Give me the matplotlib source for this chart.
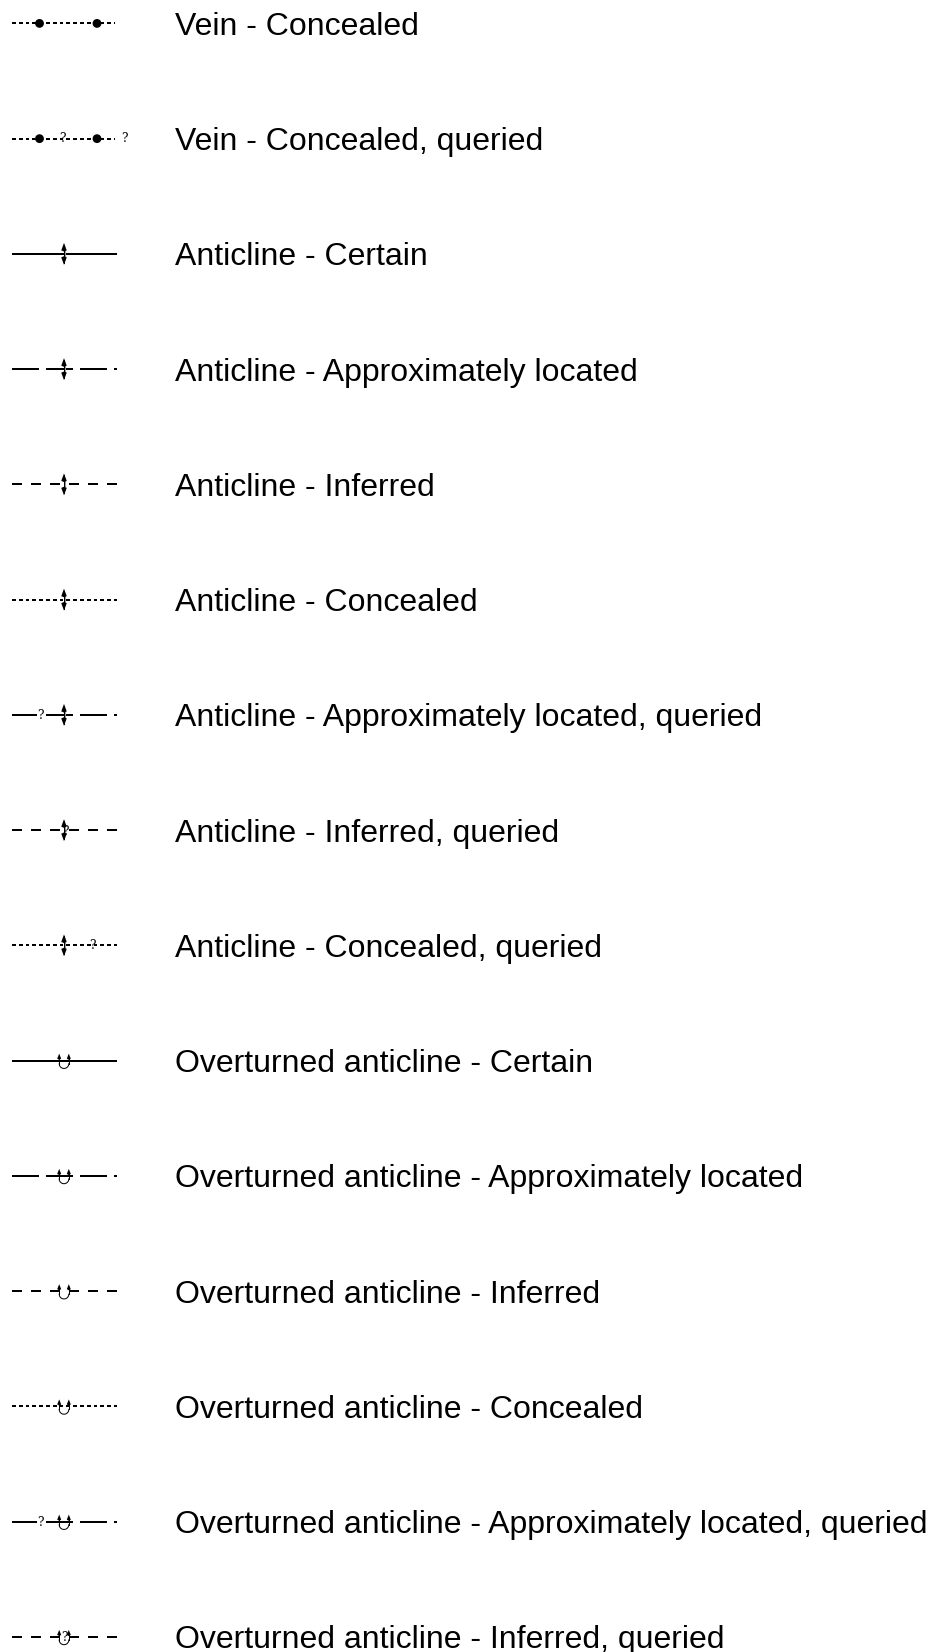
import matplotlib
matplotlib.use("Agg")
import matplotlib.pyplot as plt
from matplotlib.collections import LineCollection
from matplotlib.patches import Polygon, Circle
import numpy as np

labels = [
    "Vein - Concealed",
    "Vein - Concealed, queried",
    "Anticline - Certain",
    "Anticline - Approximately located",
    "Anticline - Inferred",
    "Anticline - Concealed",
    "Anticline - Approximately located, queried",
    "Anticline - Inferred, queried",
    "Anticline - Concealed, queried",
    "Overturned anticline - Certain",
    "Overturned anticline - Approximately located",
    "Overturned anticline - Inferred",
    "Overturned anticline - Concealed",
    "Overturned anticline - Approximately located, queried",
    "Overturned anticline - Inferred, queried",
]
line_kinds = ["concealed", "concealed", "solid", "approx", "inferred", "concealed",
              "approx", "inferred", "concealed", "solid", "approx", "inferred",
              "concealed", "approx", "inferred"]
features = ["vein", "vein"] + ["anticline"] * 7 + ["overturned"] * 6
queried = [False, True, False, False, False, False, True, True, True,
           False, False, False, False, True, True]

W, H = 929, 1652
fig = plt.figure(figsize=(W / 100, H / 100), dpi=100)
ax = fig.add_axes([0, 0, 1, 1])
ax.set_xlim(0, W)
ax.set_ylim(H, 0)
ax.axis("off")

PT = 0.72  # px -> pt at 100 dpi
X0, X1 = 12, 117
XC = 64
row0, step = 23.4, 115.25
TEXT_X = 175
FS = 23.0  # pt
FS_PX = FS / PT

patterns = {"solid": None, "approx": (27, 7), "inferred": (10, 9), "concealed": (3.8, 3.0)}


def segs(x0, x1, y, pat):
    if pat is None:
        return [[(x0, y), (x1, y)]]
    on, off = pat
    out = []
    x = x0
    while x < x1:
        out.append([(x, y), (min(x + on, x1), y)])
        x += on + off
    return out


def qmark(x, y, size=10):
    ax.text(x, y, "?", fontsize=size * PT * 1.2, family="DejaVu Serif",
            ha="center", va="center", color="black", zorder=5)


def arrowhead(x, y, direction, w=5.5, l=7.5):
    tip = (x, y)
    base_y = y - direction * l
    ax.add_patch(Polygon([tip, (x - w / 2, base_y), (x, base_y - direction * 1.2),
                          (x + w / 2, base_y)],
                         closed=True, facecolor="black", edgecolor="none", zorder=4))


def anticline(y):
    ax.plot([XC, XC], [y - 9, y + 9], color="black", lw=1.0 * PT, zorder=4)
    ax.plot([XC + 1.4, XC + 1.4], [y - 5, y + 5], color="#999999", lw=1.0 * PT, zorder=3)
    arrowhead(XC, y - 11, -1)
    arrowhead(XC, y + 11, 1)


def overturned(y):
    xl, xr = XC - 4.8, XC + 4.8
    r = (xr - xl) / 2
    cy = y + 3
    ax.plot([xl, xl], [y - 3, cy], color="black", lw=1.0 * PT, zorder=4)
    ax.plot([xr, xr], [y - 3, cy], color="black", lw=1.0 * PT, zorder=4)
    t = np.linspace(0, np.pi, 40)
    ax.plot(XC + r * np.cos(t), cy + r * np.sin(t), color="black", lw=1.0 * PT, zorder=4)
    arrowhead(xl, y - 7, -1, w=4.0, l=5.0)
    arrowhead(xr, y - 7, -1, w=4.0, l=5.0)


for i, (lab, kind, feat, q) in enumerate(zip(labels, line_kinds, features, queried)):
    y = row0 + i * step
    lines = segs(X0, X1 - 2 if feat == "vein" else X1, y, patterns[kind])
    if kind == "approx" and q:
        lines[0] = [(X0, y), (X0 + 25, y)]
    ax.add_collection(LineCollection(lines, colors="black", linewidths=2.0 * PT,
                                     capstyle="butt", zorder=2))
    if feat == "vein":
        for xd in (39.5, 97):
            ax.add_patch(Circle((xd, y), 4.4, facecolor="black", edgecolor="none", zorder=4))
        if q:
            qmark(62, y)
            qmark(124, y)
    elif feat == "anticline":
        anticline(y)
        if q:
            if kind == "approx":
                qmark(40.5, y + 1)
            elif kind == "inferred":
                qmark(XC + 1, y + 1)
            else:
                qmark(92, y)
    else:
        overturned(y)
        if q:
            if kind == "approx":
                qmark(40.5, y + 1)
            elif kind == "inferred":
                qmark(XC, y + 1)
            else:
                qmark(92, y)
    ax.text(TEXT_X, y + 0.36 * FS_PX, lab, family="Liberation Sans", fontsize=FS,
            ha="left", va="baseline", color="black")

fig.savefig("out.png", dpi=100, facecolor="white")
